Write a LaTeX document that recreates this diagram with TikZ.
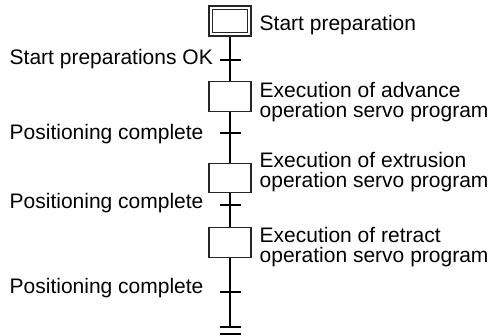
\documentclass[tikz,border=0pt]{standalone}
\usepackage{fontspec}
\setmainfont{Liberation Sans}
\begin{document}
\begin{tikzpicture}[x=1pt,y=-1pt,
  stepbox/.style={draw=black!85,line width=1.3pt,minimum width=42pt,minimum height=29.5pt,inner sep=0pt,fill=white},
  flow/.style={line width=2pt,black},
  lbl/.style={anchor=base west,inner sep=0pt,align=left,font=\fontsize{21}{20.5}\selectfont}]
\useasboundingbox (0,0) rectangle (493,336);
% steps
\node[stepbox,minimum height=30pt] (s1) at (230,21) {};
\node[draw=black!85,line width=1.3pt,minimum width=35pt,minimum height=23pt,inner sep=0pt] (s1in) at (230,21) {};
\node[stepbox] (s2) at (230,96.5) {};
\node[stepbox] (s3) at (230,178) {};
\node[stepbox] (s4) at (230,242.5) {};
% transitions
\coordinate (t1) at (230,60);
\coordinate (t2) at (230,133);
\coordinate (t3) at (230,205);
\coordinate (t4) at (230,292);
\coordinate (e1) at (230,327);
\coordinate (e2) at (230,334);
% connectors
\draw[flow] (s1.south) -- (s2.north);
\draw[flow] (s2.south) -- (s3.north);
\draw[flow] (s3.south) -- (s4.north);
\draw[flow] (s4.south) -- (e1);
\foreach \t in {t1,t2,t3,t4,e1,e2}
  \draw[flow] ([xshift=-10.5pt]\t) -- ([xshift=10.5pt]\t);
% right labels (base = last line)
\node[lbl] (l1) at (259.5,31) {Start preparation};
\node[lbl] (l2) at (259.5,118) {Execution of advance\\operation servo program};
\node[lbl] (l3) at (259.5,188) {Execution of extrusion\\operation servo program};
\node[lbl] (l4) at (259.5,263) {Execution of retract\\operation servo program};
% left labels
\node[lbl] (c1) at (9.5,65) {Start preparations OK};
\node[lbl] (c2) at (9.5,140) {Positioning complete};
\node[lbl] (c3) at (9.5,209) {Positioning complete};
\node[lbl] (c4) at (9.5,294) {Positioning complete};
\end{tikzpicture}
\end{document}
